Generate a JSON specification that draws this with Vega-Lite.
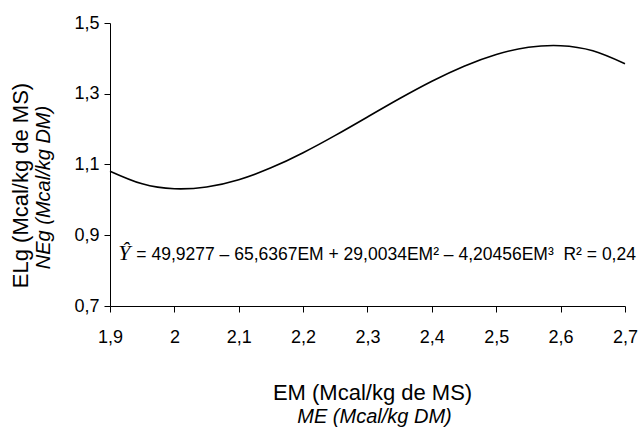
{
  "$schema": "https://vega.github.io/schema/vega-lite/v6.json",
  "width": 515,
  "height": 283,
  "autosize": {"type": "none"},
  "padding": {"left": 110, "top": 23, "right": 17, "bottom": 121},
  "background": "white",
  "config": {
    "font": "Liberation Sans",
    "view": {"stroke": null},
    "axis": {
      "grid": false,
      "domainColor": "black",
      "tickColor": "black",
      "labelColor": "black",
      "titleColor": "black",
      "domainWidth": 1,
      "tickWidth": 1,
      "labelFont": "Liberation Sans",
      "titleFont": "Liberation Sans",
      "titleFontWeight": "normal",
      "labelOverlap": false
    }
  },
  "datasets": {
    "curve": [
      {"em": 1.90, "elg": 1.0812},
      {"em": 1.95, "elg": 1.0453},
      {"em": 2.00, "elg": 1.0314},
      {"em": 2.05, "elg": 1.0365},
      {"em": 2.10, "elg": 1.0572},
      {"em": 2.15, "elg": 1.0905},
      {"em": 2.20, "elg": 1.1333},
      {"em": 2.25, "elg": 1.1823},
      {"em": 2.30, "elg": 1.2344},
      {"em": 2.35, "elg": 1.2865},
      {"em": 2.40, "elg": 1.3354},
      {"em": 2.45, "elg": 1.3779},
      {"em": 2.50, "elg": 1.4110},
      {"em": 2.55, "elg": 1.4313},
      {"em": 2.60, "elg": 1.4359},
      {"em": 2.65, "elg": 1.4215},
      {"em": 2.70, "elg": 1.3850}
    ],
    "eq": [
      {"em": 1.913, "elg": 0.83, "hat": "Ŷ", "eq": "= 49,9277 – 65,6367EM + 29,0034EM² – 4,20456EM³ \u00a0R² = 0,24"}
    ]
  },
  "layer": [
    {
      "data": {"name": "curve"},
      "mark": {"type": "line", "color": "black", "strokeWidth": 1.6, "interpolate": "natural"},
      "encoding": {
        "x": {
          "field": "em", "type": "quantitative",
          "scale": {"domain": [1.9, 2.7], "zero": false, "nice": false},
          "axis": {
            "orient": "bottom",
            "values": [1.9, 2.0, 2.1, 2.2, 2.3, 2.4, 2.5, 2.6, 2.7],
            "labelExpr": "replace(format(datum.value, '~g'), '.', ',')",
            "labelFontSize": 18,
            "tickSize": 6,
            "labelPadding": 16,
            "labelFlush": false,
            "title": "EM (Mcal/kg de MS)",
            "titleFontSize": 22,
            "titleX": 262,
            "titleY": 86,
            "titleBaseline": "middle"
          }
        },
        "y": {
          "field": "elg", "type": "quantitative",
          "scale": {"domain": [0.7, 1.5], "zero": false, "nice": false},
          "axis": {
            "orient": "left",
            "values": [0.7, 0.9, 1.1, 1.3, 1.5],
            "labelExpr": "replace(format(datum.value, '.1f'), '.', ',')",
            "labelFontSize": 18,
            "tickSize": 6,
            "labelPadding": 5,
            "labelFlush": false,
            "title": "ELg (Mcal/kg de MS)",
            "titleFontSize": 22,
            "titleAngle": 270,
            "titleX": -90,
            "titleY": 162,
            "titleBaseline": "middle"
          }
        }
      }
    },
    {
      "data": {"name": "eq"},
      "mark": {"type": "text", "font": "Liberation Serif", "fontStyle": "italic", "fontSize": 22, "align": "left", "baseline": "alphabetic", "color": "black"},
      "encoding": {
        "x": {
          "field": "em", "type": "quantitative",
          "scale": {"domain": [1.9, 2.7], "zero": false, "nice": false},
          "axis": {
            "orient": "bottom",
            "labels": false, "ticks": false, "domain": false,
            "title": "ME (Mcal/kg DM)",
            "titleFontStyle": "italic",
            "titleFontSize": 20,
            "titleX": 264,
            "titleY": 110,
            "titleBaseline": "middle"
          }
        },
        "y": {
          "field": "elg", "type": "quantitative",
          "scale": {"domain": [0.7, 1.5], "zero": false, "nice": false},
          "axis": {
            "orient": "left",
            "labels": false, "ticks": false, "domain": false,
            "title": "NEg (Mcal/kg DM)",
            "titleFontStyle": "italic",
            "titleFontSize": 20,
            "titleAngle": 270,
            "titleX": -67,
            "titleY": 164,
            "titleBaseline": "middle"
          }
        },
        "text": {"field": "hat"}
      }
    },
    {
      "data": {"name": "eq"},
      "mark": {"type": "text", "fontSize": 17.5, "align": "left", "baseline": "alphabetic", "dx": 18, "color": "black"},
      "encoding": {
        "x": {"field": "em", "type": "quantitative", "scale": {"domain": [1.9, 2.7], "zero": false, "nice": false}, "axis": null},
        "y": {"field": "elg", "type": "quantitative", "scale": {"domain": [0.7, 1.5], "zero": false, "nice": false}, "axis": null},
        "text": {"field": "eq"}
      }
    }
  ],
  "resolve": {"axis": {"x": "independent", "y": "independent"}}
}
